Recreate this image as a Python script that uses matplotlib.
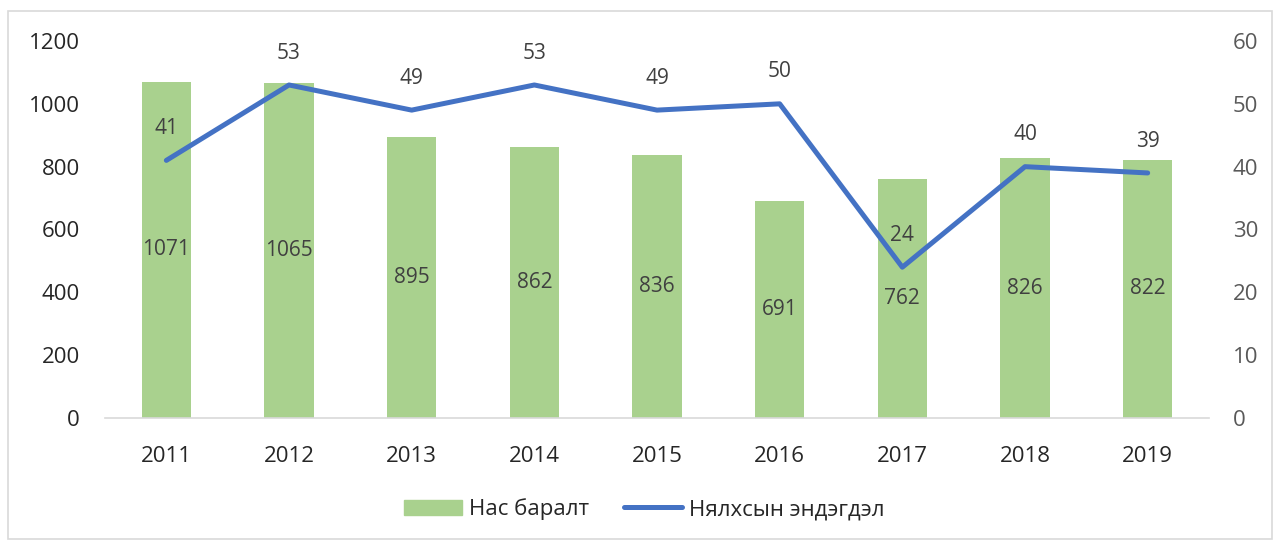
import matplotlib.pyplot as plt
import matplotlib.patches as mpatches
from matplotlib.lines import Line2D
import numpy as np

plt.rcParams['font.family'] = ['Open Sans', 'DejaVu Sans']

years = ['2011', '2012', '2013', '2014', '2015', '2016', '2017', '2018', '2019']
nas_baralt = [1071, 1065, 895, 862, 836, 691, 762, 826, 822]
nyalkhas = [41, 53, 49, 53, 49, 50, 24, 40, 39]

bar_color = '#A9D18E'
line_color = '#4472C4'
label_color = '#404040'

fig = plt.figure(figsize=(12.76, 5.43), dpi=100)
ax = fig.add_axes([0.0823, 0.2302, 0.8652, 0.6943])
ax2 = ax.twinx()

x = np.arange(len(years))
ax.bar(x, nas_baralt, width=0.4, color=bar_color, zorder=1)
for xi, v in zip(x, nas_baralt):
    ax.text(xi, v / 2, str(v), ha='center', va='center', fontsize=15, color=label_color)

ax2.plot(x, nyalkhas, color=line_color, linewidth=3.6, solid_capstyle='round',
         solid_joinstyle='round', zorder=3)
for xi, v in zip(x, nyalkhas):
    ax2.annotate(str(v), (xi, v), xytext=(0, 23), textcoords='offset points',
                 ha='center', va='center', fontsize=15, color=label_color)

ax.set_xlim(-0.5, 8.5)
ax.set_ylim(0, 1200)
ax2.set_ylim(0, 60)
ax.set_yticks(range(0, 1201, 200))
ax2.set_yticks(range(0, 61, 10))
ax.set_xticks(x)
ax.set_xticklabels(years)

for a in (ax, ax2):
    for s in ('top', 'left', 'right', 'bottom'):
        a.spines[s].set_visible(False)
ax.spines['bottom'].set_visible(True)
ax.spines['bottom'].set_color('#D9D9D9')
ax.spines['bottom'].set_linewidth(1.2)

ax.tick_params(axis='y', length=0, labelsize=16, labelcolor='#262626', pad=18)
ax.tick_params(axis='x', length=0, labelsize=16, labelcolor='#262626', pad=20)
ax2.tick_params(axis='y', length=0, labelsize=16, labelcolor='#595959', pad=17)

ax.set_zorder(ax2.get_zorder() - 1)
ax.patch.set_visible(False)

handles = [mpatches.Patch(color=bar_color, label='Нас баралт'),
           Line2D([0], [0], color=line_color, linewidth=3.6, solid_capstyle='round',
                  label='Нялхсын эндэгдэл')]
fig.legend(handles=handles, loc='center', bbox_to_anchor=(0.505, 0.062), ncol=2,
           frameon=False, fontsize=16, handlelength=2.6, handleheight=0.7,
           handletextpad=0.3, columnspacing=1.6, labelcolor='#262626')

fig.patches.append(mpatches.Rectangle((8 / 1276, 4 / 543), 1264 / 1276, 528 / 543,
                                      transform=fig.transFigure, fill=False,
                                      edgecolor='#D9D9D9', linewidth=1.2))

fig.savefig('out.png', dpi=100)
